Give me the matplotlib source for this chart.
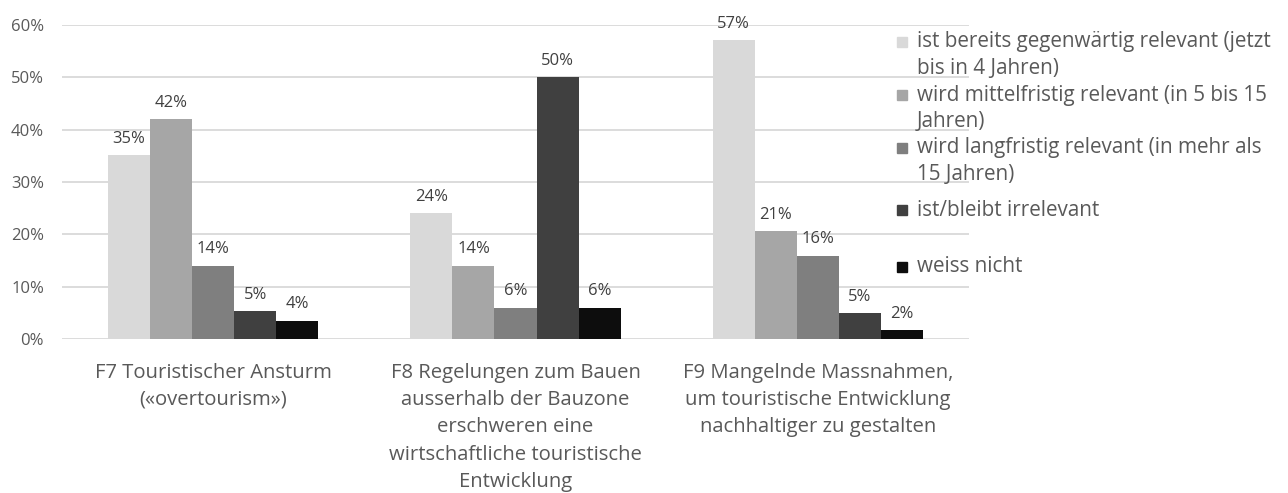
import matplotlib
matplotlib.use("Agg")
import matplotlib.pyplot as plt
import matplotlib.patches as mpatches
import numpy as np

# ---- data ----
categories = [
    "F7 Touristischer Ansturm\n(«overtourism»)",
    "F8 Regelungen zum Bauen\nausserhalb der Bauzone\nerschweren eine\nwirtschaftliche touristische\nEntwicklung",
    "F9 Mangelnde Massnahmen,\num touristische Entwicklung\nnachhaltiger zu gestalten",
]
series_names = [
    "ist bereits gegenwärtig relevant (jetzt\nbis in 4 Jahren)",
    "wird mittelfristig relevant (in 5 bis 15\nJahren)",
    "wird langfristig relevant (in mehr als\n15 Jahren)",
    "ist/bleibt irrelevant",
    "weiss nicht",
]
jetzt = [35.1, 24.0, 57.1]
mittel = [42.0, 14.0, 20.6]
lang = [14.0, 6.0, 15.9]
irrelevant = [5.3, 50.0, 4.9]
weiss_nicht = [3.5, 6.0, 1.7]
yticks = [0, 10, 20, 30, 40, 50, 60]

values = [jetzt, mittel, lang, irrelevant, weiss_nicht]
colors = ["#d9d9d9", "#a6a6a6", "#7f7f7f", "#404040", "#0d0d0d"]

plt.rcParams["font.family"] = ["Open Sans", "DejaVu Sans"]

W, H = 1288, 493
fig = plt.figure(figsize=(W / 100, H / 100), dpi=100)
fig.patch.set_facecolor("white")
ax = fig.add_axes([62 / W, 1 - 339 / H, (969 - 62) / W, (339 - 25) / H])

x = np.arange(len(categories))
bw = 0.139
for i, (vals, col) in enumerate(zip(values, colors)):
    xs = x + (i - 2) * bw
    ax.bar(xs, vals, width=bw, color=col, linewidth=0, zorder=2)
    for xx, v in zip(xs, vals):
        ax.annotate(f"{round(v):.0f}%", (xx, v), xytext=(0, 6),
                    textcoords="offset points", ha="center", va="bottom",
                    fontsize=12, color="#404040")

ax.set_xlim(-0.5, 2.5)
ax.set_ylim(0, 60)
ax.set_yticks(yticks)
ax.set_yticklabels([f"{v}%" for v in yticks])
ax.grid(axis="y", color="#d9d9d9", linewidth=1.3, zorder=0)
ax.set_axisbelow(True)
for s in ax.spines.values():
    s.set_visible(False)
ax.tick_params(axis="y", length=0, pad=13, labelsize=12, labelcolor="#595959")
ax.set_xticks(x)
ax.set_xticklabels(categories, fontsize=14.6, color="#595959", linespacing=1.49)
ax.tick_params(axis="x", length=0, pad=17)

# legend, Excel style: fixed slots, handle on first line
slot_y = [42, 95, 148, 210, 267]
line_gap = 26.5
for name, col, y in zip(series_names, colors, slot_y):
    fig.patches.append(mpatches.Rectangle((897 / W, 1 - (y + 5) / H), 10 / W, 10 / H,
                                          transform=fig.transFigure, color=col))
    for k, line in enumerate(name.split("\n")):
        fig.text(917 / W, 1 - (y + k * line_gap) / H, line, fontsize=14.9,
                 color="#595959", ha="left", va="center")

fig.savefig("out.png", dpi=100, facecolor="white")
